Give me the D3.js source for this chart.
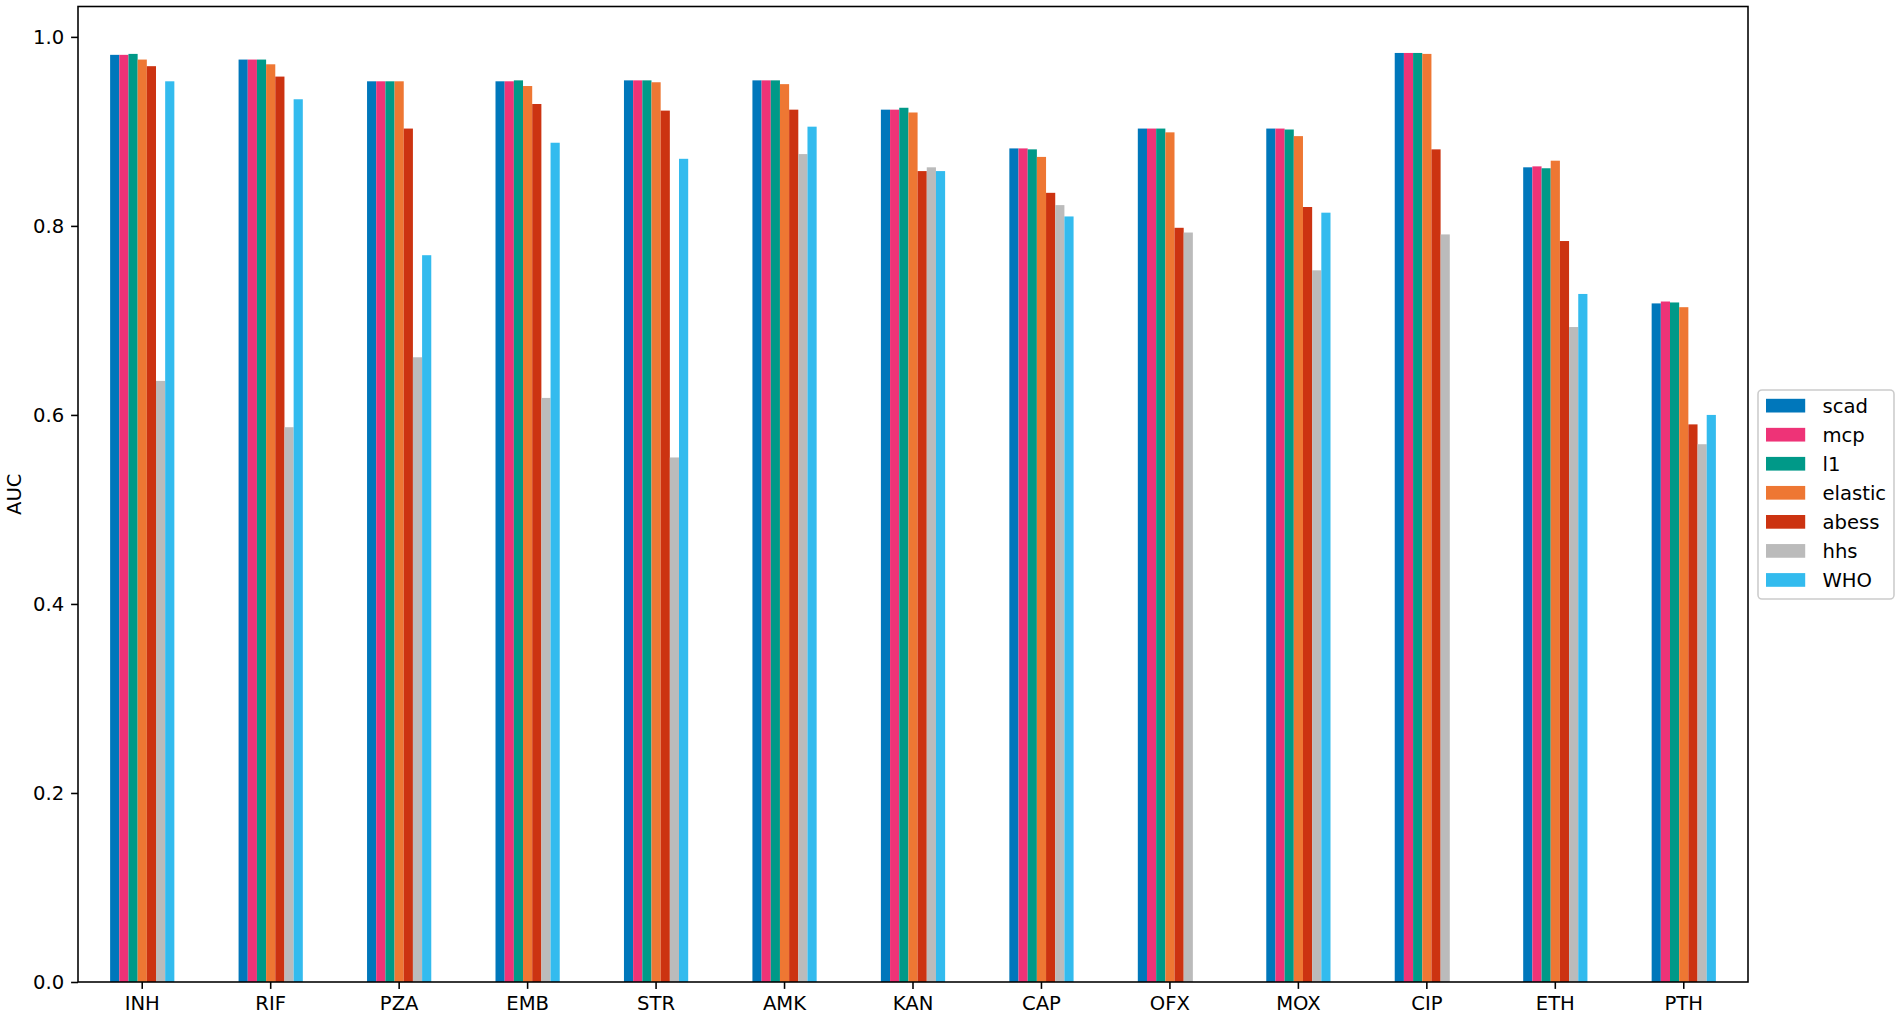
<!DOCTYPE html>
<html>
<head>
<meta charset="utf-8">
<script src="https://cdn.jsdelivr.net/npm/d3@7/dist/d3.min.js"></script>
<style>
  html, body { margin: 0; padding: 0; background: #fff; }
  svg { display: block; }
  text { font-family: "DejaVu Sans", sans-serif; fill: #000; }
</style>
</head>
<body>
<svg id="chart" width="1902" height="1018"></svg>
<script>
const categories = ["INH","RIF","PZA","EMB","STR","AMK","KAN","CAP","OFX","MOX","CIP","ETH","PTH"];
const seriesNames = ["scad","mcp","l1","elastic","abess","hhs","WHO"];
const scad    = [0.981,0.976,0.953,0.953,0.954,0.954,0.923,0.882,0.903,0.903,0.983,0.862,0.718];
const mcp     = [0.981,0.976,0.953,0.953,0.954,0.954,0.923,0.882,0.903,0.903,0.983,0.863,0.720];
const l1      = [0.982,0.976,0.953,0.954,0.954,0.954,0.925,0.881,0.903,0.902,0.983,0.861,0.719];
const elastic = [0.976,0.971,0.953,0.948,0.952,0.950,0.920,0.873,0.899,0.895,0.982,0.869,0.714];
const abess   = [0.969,0.958,0.903,0.929,0.922,0.923,0.858,0.835,0.798,0.820,0.881,0.784,0.590];
const hhs     = [0.636,0.587,0.661,0.618,0.555,0.876,0.862,0.822,0.793,0.753,0.791,0.693,0.569];
const WHO     = [0.953,0.934,0.769,0.888,0.871,0.905,0.858,0.810,null,0.814,null,0.728,0.600];
const yTicks  = [0.0,0.2,0.4,0.6,0.8,1.0];
const colors  = ["#0077BB","#EE3377","#009988","#EE7733","#CC3311","#BBBBBB","#33BBEE"];

const seriesValues = [scad, mcp, l1, elastic, abess, hhs, WHO];

const svg = d3.select("#chart");
const margin = {left: 78, right: 1748, top: 6.5, bottom: 982};
const fontPx = 19.6;
const tickLen = 6.9;

const x = d3.scaleBand().domain(categories).range([margin.left, margin.right])
  .paddingInner(0.5).paddingOuter(0.25);
const xs = d3.scaleBand().domain(seriesNames).range([0, x.bandwidth()]);
const yMax = 0.983 * 1.05;
const y = d3.scaleLinear().domain([0, yMax]).range([margin.bottom, margin.top]);

// bars
const g = svg.append("g");
seriesNames.forEach((s, si) => {
  g.selectAll(null)
    .data(categories.map((c, ci) => ({c, v: seriesValues[si][ci]})).filter(d => d.v != null))
    .enter().append("rect")
    .attr("x", d => x(d.c) + xs(s))
    .attr("width", xs.bandwidth())
    .attr("y", d => y(d.v))
    .attr("height", d => y(0) - y(d.v))
    .attr("fill", colors[si]);
});

// axes
const yAxis = d3.axisLeft(y).tickValues(yTicks).tickFormat(d3.format(".1f"))
  .tickSize(tickLen).tickPadding(6.9);
const xAxis = d3.axisBottom(x).tickSize(tickLen).tickPadding(6.9);

const ya = svg.append("g").attr("transform", `translate(${margin.left},0)`).call(yAxis);
const xa = svg.append("g").attr("transform", `translate(0,${margin.bottom})`).call(xAxis);
[ya, xa].forEach(a => {
  a.select(".domain").remove();
  a.selectAll(".tick line").attr("stroke", "#000").attr("stroke-width", 1.57);
  a.selectAll(".tick text").style("font-size", fontPx + "px").attr("fill", "#000")
    .style("font-family", "'DejaVu Sans', sans-serif");
});

// frame
svg.append("rect")
  .attr("x", margin.left).attr("y", margin.top)
  .attr("width", margin.right - margin.left).attr("height", margin.bottom - margin.top)
  .attr("fill", "none").attr("stroke", "#000").attr("stroke-width", 1.57);

// y label
svg.append("text")
  .attr("transform", `translate(21,${(margin.top + margin.bottom) / 2}) rotate(-90)`)
  .attr("text-anchor", "middle")
  .style("font-size", fontPx + "px")
  .text("AUC");

// legend
const lg = svg.append("g");
lg.append("rect")
  .attr("x", 1758).attr("y", 390).attr("width", 136).attr("height", 209)
  .attr("rx", 4).attr("fill", "#fff").attr("fill-opacity", 0.8)
  .attr("stroke", "#cccccc").attr("stroke-width", 1.57);
seriesNames.forEach((s, i) => {
  const cy = 405.7 + i * 29.05;
  lg.append("rect").attr("x", 1766).attr("y", cy - 6.9).attr("width", 39.2).attr("height", 13.7)
    .attr("fill", colors[i]);
  lg.append("text").attr("x", 1822.5).attr("y", cy).attr("dy", "0.36em")
    .style("font-size", fontPx + "px").text(s);
});
</script>
</body>
</html>
